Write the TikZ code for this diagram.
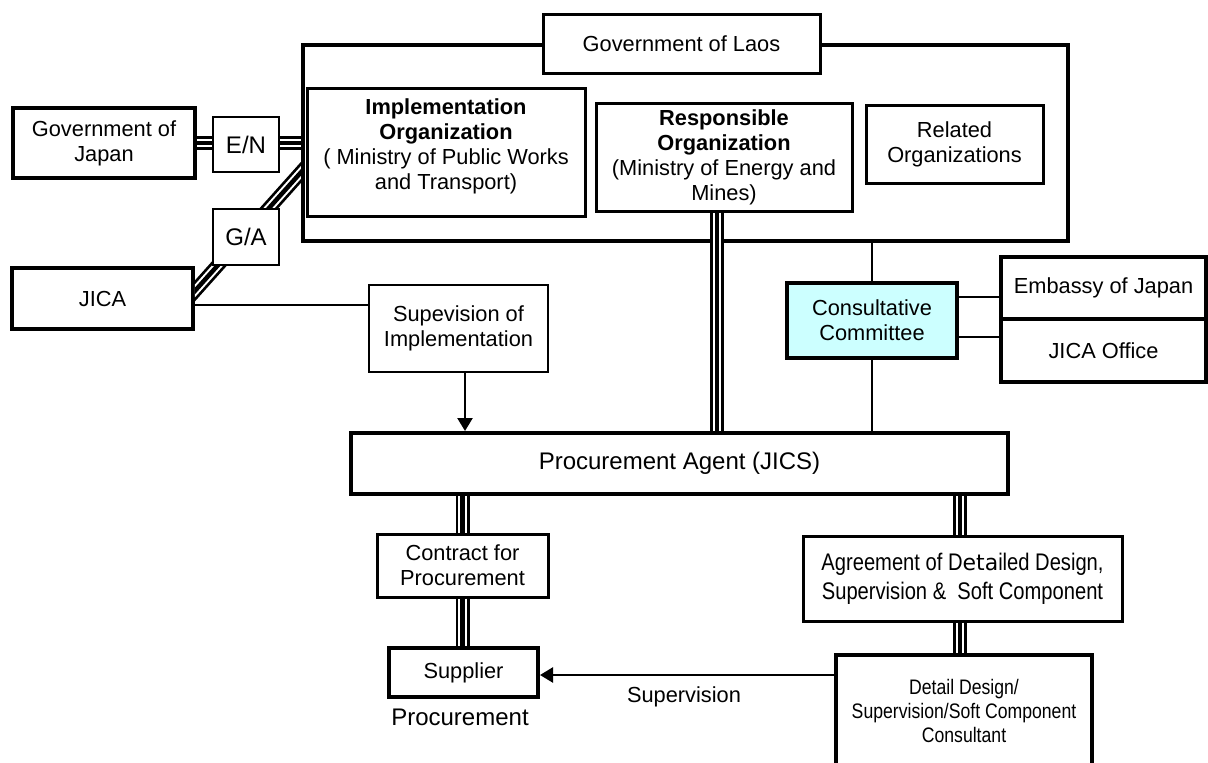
\documentclass[tikz,border=0pt]{standalone}
\usepackage{fontspec}
\setmainfont{Liberation Sans}
\newfontfamily\narrowf{Liberation Sans}[FakeStretch=0.84]
\newfontfamily\dvf{DejaVu Sans}
\usetikzlibrary{arrows.meta}
\definecolor{cyanfill}{RGB}{204,255,255}
\newcommand\mainsz{\fontsize{21.8pt}{25pt}\selectfont}
\newcommand\bigsz{\fontsize{24pt}{28pt}\selectfont}
\begin{document}
\begin{tikzpicture}[x=1pt,y=-1pt,
  box/.style={draw, fill=white, line width=3pt, align=center, inner sep=0pt, font=\mainsz},
  tripleline/.style={line width=4.5pt, preaction={draw, black, line width=14pt}, preaction={draw, white, line width=8.5pt}},
  conn/.style={line width=2.5pt},
  arr/.style={line width=2.5pt, -{Triangle[length=13pt,width=15pt]}},
  lbl/.style={inner sep=0pt, font=\mainsz}]
\useasboundingbox (0,0) rectangle (1208,763);
\clip (0,0) rectangle (1208,763);
\coordinate (o) at (0,0);
% outer frame
\node[draw, line width=4.5pt, minimum width=765pt, minimum height=196pt, inner sep=0pt] (frame) at (685.5,143) {};
% left boxes
\node[box, line width=3.5pt, minimum width=182pt, minimum height=70pt] (goj) at (104,143) {Government of\\Japan};
\node[box, line width=3.5pt, minimum width=181pt, minimum height=61pt] (jica) at (102.5,298.5) {JICA};
% triple connectors to the frame
\draw[tripleline] (goj.east) -- (goj.east -| frame.west);
\begin{scope}
\clip (jica.east |- jica.south) rectangle (frame.west |- o);
\coordinate (ja) at (185,302);
\coordinate (fa) at (312,160);
\draw[tripleline] (ja) -- (fa);
\end{scope}
\node[box, line width=2.5pt, minimum width=66pt, minimum height=55pt, font=\bigsz] (en) at (246,144.5) {E/N};
\node[box, line width=2.5pt, minimum width=66pt, minimum height=56pt, font=\bigsz] (ga) at (246,237) {G/A};
% inside frame
\node[box, minimum width=277pt, minimum height=59pt] (gol) at (681.5,43.5) {Government of Laos};
\node[box, minimum width=278pt, minimum height=128pt] (impl) at (446,152) {\textbf{Implementation}\\\textbf{Organization}\\( Ministry of Public Works\\and Transport)\\[-9pt]\mbox{}};
\node[box, minimum width=256pt, minimum height=108pt] (resp) at (724,157) {\textbf{Responsible}\\\textbf{Organization}\\(Ministry of Energy and\\Mines)};
\node[box, minimum width=177pt, minimum height=78pt] (rel) at (954.5,144) {Related\\Organizations};
% middle
\node[box, line width=2.5pt, minimum width=179pt, minimum height=87pt] (supv) at (458.5,328.5) {Supevision of\\Implementation};
\node[box, line width=3.5pt, fill=cyanfill, minimum width=170pt, minimum height=75pt] (cc) at (872,320.5) {Consultative\\Committee};
\node[box, line width=3.5pt, minimum width=205pt, minimum height=62pt] (emb) at (1103.5,288) {Embassy of Japan};
\node[box, line width=3.5pt, minimum width=205pt, minimum height=63pt] (jo) at (1103.5,350.5) {JICA Office};
\node[box, line width=4pt, minimum width=657pt, minimum height=61pt, font=\bigsz] (proc) at (679.5,463.5) {Procurement Agent (JICS)};
% bottom
\node[box, minimum width=171pt, minimum height=63pt] (con) at (462.5,565.5) {Contract for\\Procurement};
\node[box, line width=4pt, minimum width=149pt, minimum height=49pt] (supl) at (463.5,672.5) {Supplier};
\node[box, minimum width=319pt, minimum height=85pt, font={\narrowf\fontsize{24pt}{29pt}\selectfont}] (agr) at (962.5,578.5) {Agreement of D{\dvf\fontsize{22pt}{29pt}\selectfont eta}iled Design,\\Supervision \&\ \ Soft Component};
\node[box, line width=4pt, minimum width=256pt, minimum height=112pt, font={\narrowf\fontsize{21pt}{24pt}\selectfont}] (cons) at (964,711) {Detail Design/\\Supervision/Soft Component\\Consultant};
% labels
\node[lbl, font=\bigsz] (plbl) at (460,717) {Procurement};
\node[lbl] (slbl) at (684,697) {Supervision};
% connectors
\path ([xshift=-7pt]resp.south) coordinate (r1);
\draw[tripleline] (r1) -- (r1 |- proc.north);
\draw[conn] (cc.north |- frame.south) -- (cc.north);
\draw[conn] (cc.south) -- (cc.south |- proc.north);
\path ([yshift=-9pt]emb.west) coordinate (e1);
\draw[conn] (e1 -| cc.east) -- (e1);
\path ([yshift=13.5pt]jo.west) coordinate (j1);
\draw[conn] (j1 -| cc.east) -- (j1);
\path ([yshift=-6.5pt]jica.east) coordinate (s1);
\draw[conn] (s1) -- (s1 -| supv.west);
\path ([xshift=6.5pt]supv.south) coordinate (v1);
\draw[arr] (v1) -- (v1 |- proc.north);
\draw[tripleline] (con.north |- proc.south) -- (con.north);
\draw[tripleline] (con.south) -- (con.south |- supl.north);
\path ([xshift=-2.5pt]agr.north) coordinate (a1);
\draw[tripleline] (a1 |- proc.south) -- (a1);
\draw[tripleline] (a1 |- agr.south) -- (a1 |- cons.north);
\path ([yshift=-2.5pt]supl.east) coordinate (p1);
\draw[arr] (p1 -| cons.west) -- (p1);
\end{tikzpicture}
\end{document}
